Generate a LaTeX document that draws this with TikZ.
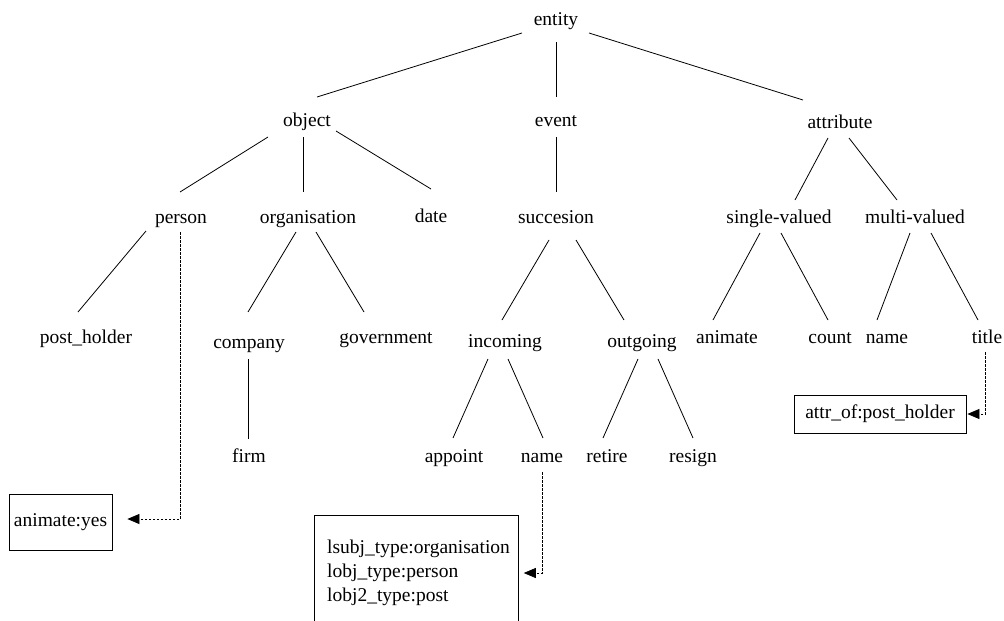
\documentclass[tikz,border=0pt]{standalone}
\usepackage{fontspec}
\setmainfont{Liberation Serif}
\usetikzlibrary{arrows.meta}
\tikzset{
  lbl/.style={font=\fontsize{19.5}{24}\selectfont, inner sep=0pt, anchor=base},
  edge/.style={line width=0.8pt},
  ptr/.style={line width=0.7pt, dash pattern=on 2.5pt off 1.5pt, -{Triangle[length=12pt,width=10pt]}},
  boxnode/.style={draw, line width=0.8pt, inner sep=0pt, font=\fontsize{19.5}{24}\selectfont}
}
\begin{document}
\begin{tikzpicture}[x=1pt,y=-1pt]
\clip (0,0) rectangle (1004,621);
\fill[white] (0,0) rectangle (1004,621);
% tree nodes
\node[lbl] (entity) at (556,25) {entity};
\node[lbl] (object) at (307,126) {object};
\node[lbl] (event) at (556,126) {event};
\node[lbl] (attribute) at (840,128) {attribute};
\node[lbl] (person) at (181,223) {person};
\node[lbl] (organisation) at (308,223) {organisation};
\node[lbl] (date) at (431,222) {date};
\node[lbl] (succesion) at (556,223) {succesion};
\node[lbl] (single) at (779,223) {single-valued};
\node[lbl] (multi) at (915,223) {multi-valued};
\node[lbl] (postholder) at (86,343) {post\_holder};
\node[lbl] (company) at (249,348) {company};
\node[lbl] (government) at (386,343) {government};
\node[lbl] (incoming) at (505,347) {incoming};
\node[lbl] (outgoing) at (642,347) {outgoing};
\node[lbl] (animate) at (727,343) {animate};
\node[lbl] (count) at (830,343) {count};
\node[lbl] (nameB) at (887,343) {name};
\node[lbl] (title) at (987,343) {title};
\node[lbl] (firm) at (249,462) {firm};
\node[lbl] (appoint) at (454,462) {appoint};
\node[lbl] (nameA) at (542,462) {name};
\node[lbl] (retire) at (607,462) {retire};
\node[lbl] (resign) at (693,462) {resign};
% boxes
\node[boxnode, minimum width=103pt, minimum height=56pt] (ayes) at (60.5,522) {animate:yes};
\node[boxnode, minimum width=172pt, minimum height=38pt] (attrof) at (880,414) {attr\_of:post\_holder};
\node[draw, line width=0.8pt, inner sep=0pt, anchor=north west, minimum width=204pt, minimum height=140pt] (bigbox) at (314,515) {};
\node[inner sep=0pt, anchor=north west, align=left, font=\fontsize{19.5}{24}\selectfont] (bigtext) at (327,540) {lsubj\_type:organisation\\lobj\_type:person\\lobj2\_type:post};
% edges
\draw[edge] ([shift={(-34,8)}]entity.base) -- ([shift={(10,-29)}]object.base);
\draw[edge] ([shift={(0,17)}]entity.base) -- ([shift={(0,-29)}]event.base);
\draw[edge] ([shift={(33,8)}]entity.base) -- ([shift={(-37,-28)}]attribute.base);
\draw[edge] ([shift={(-39,11)}]object.base) -- ([shift={(-1,-31)}]person.base);
\draw[edge] ([shift={(-4,11)}]object.base) -- ([shift={(-5,-31)}]organisation.base);
\draw[edge] ([shift={(29,5)}]object.base) -- ([shift={(0,-33)}]date.base);
\draw[edge] ([shift={(0,11)}]event.base) -- ([shift={(0,-31)}]succesion.base);
\draw[edge] ([shift={(-12,10)}]attribute.base) -- ([shift={(16,-23)}]single.base);
\draw[edge] ([shift={(9,10)}]attribute.base) -- ([shift={(-18,-23)}]multi.base);
\draw[edge] ([shift={(-35,8)}]person.base) -- ([shift={(-8,-31)}]postholder.base);
\draw[edge] ([shift={(-12,9)}]organisation.base) -- ([shift={(-1,-36)}]company.base);
\draw[edge] ([shift={(8,9)}]organisation.base) -- ([shift={(-22,-31)}]government.base);
\draw[edge] ([shift={(-1,11)}]company.base) -- ([shift={(-1,-23)}]firm.base);
\draw[edge] ([shift={(-7,17)}]succesion.base) -- ([shift={(-3,-27)}]incoming.base);
\draw[edge] ([shift={(20,17)}]succesion.base) -- ([shift={(-18,-27)}]outgoing.base);
\draw[edge] ([shift={(-17,12)}]incoming.base) -- ([shift={(-1,-24)}]appoint.base);
\draw[edge] ([shift={(3,12)}]incoming.base) -- ([shift={(1,-24)}]nameA.base);
\draw[edge] ([shift={(-4,12)}]outgoing.base) -- ([shift={(-4,-24)}]retire.base);
\draw[edge] ([shift={(16,12)}]outgoing.base) -- ([shift={(0,-24)}]resign.base);
\draw[edge] ([shift={(-19,10)}]single.base) -- ([shift={(-14,-23)}]animate.base);
\draw[edge] ([shift={(2,10)}]single.base) -- ([shift={(-2,-23)}]count.base);
\draw[edge] ([shift={(-5,10)}]multi.base) -- ([shift={(-10,-23)}]nameB.base);
\draw[edge] ([shift={(16,10)}]multi.base) -- ([shift={(-9,-23)}]title.base);
% dashed pointers
\draw[ptr] ([shift={(-1,9)}]person.base) |- ([shift={(15,-3)}]ayes.east);
\draw[ptr] ([shift={(0,10)}]nameA.base) |- ([shift={(5,58)}]bigbox.north east);
\draw[ptr] ([shift={(-2,9)}]title.base) |- ([shift={(1,0)}]attrof.east);
\end{tikzpicture}
\end{document}
